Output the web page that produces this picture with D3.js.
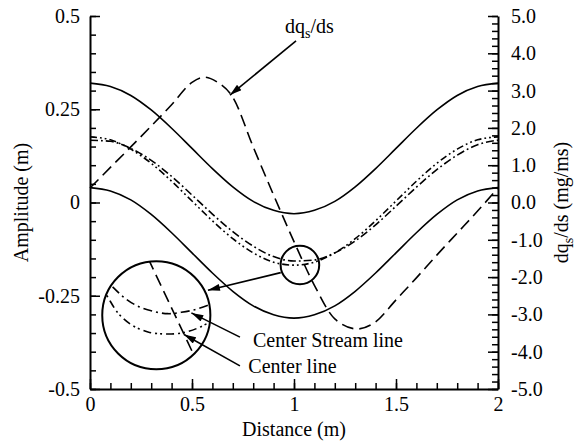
<!DOCTYPE html>
<html>
<head>
<meta charset="utf-8">
<script src="https://cdn.jsdelivr.net/npm/d3@7"></script>
<style>
body { margin: 0; background: #fff; }
</style>
</head>
<body>
<svg id="chart" width="584" height="448"></svg>
<script>
// values, x step 0.1 m
let xs = [0, 0.1, 0.2, 0.3, 0.4, 0.5, 0.6, 0.7, 0.8, 0.9, 1.0, 1.1, 1.2, 1.3, 1.4, 1.5, 1.6, 1.7, 1.8, 1.9, 2.0];
let upperSolid = [0.320, 0.311, 0.287, 0.248, 0.199, 0.145, 0.091, 0.042, 0.003, -0.021, -0.030, -0.021, 0.003, 0.042, 0.091, 0.145, 0.199, 0.248, 0.287, 0.311, 0.320];
let lowerSolid = [0.040, 0.031, 0.007, -0.032, -0.081, -0.135, -0.189, -0.238, -0.277, -0.301, -0.310, -0.301, -0.277, -0.238, -0.189, -0.135, -0.081, -0.032, 0.007, 0.031, 0.040];
let centerLine = [0.176, 0.168, 0.143, 0.105, 0.057, 0.004, -0.049, -0.097, -0.135, -0.160, -0.168, -0.160, -0.135, -0.097, -0.049, 0.004, 0.057, 0.105, 0.143, 0.168, 0.176];
let streamLine = [0.167, 0.164, 0.145, 0.113, 0.070, 0.020, -0.031, -0.078, -0.117, -0.145, -0.157, -0.154, -0.135, -0.103, -0.060, -0.010, 0.041, 0.088, 0.127, 0.155, 0.167];

// dq_s/ds on the right axis (mg/ms)
let dqX = [0, 0.1, 0.2, 0.3, 0.4, 0.5, 0.56, 0.62, 0.7, 0.8, 0.9, 1.0, 1.1, 1.2, 1.31, 1.4, 1.5, 1.6, 1.7, 1.8, 1.9, 2.0];
let dqds = [0.39, 0.94, 1.49, 2.05, 2.62, 3.22, 3.36, 3.24, 2.82, 1.49, 0.20, -1.05, -2.22, -3.12, -3.39, -3.20, -2.61, -2.02, -1.41, -0.82, -0.23, 0.39];

// ticks
let xTicks = [0, 0.5, 1, 1.5, 2];
let xTickLabels = ['0', '0.5', '1', '1.5', '2'];
let yLTicks = [-0.5, -0.25, 0, 0.25, 0.5];
let yLTickLabels = ['-0.5', '-0.25', '0', '0.25', '0.5'];
let yRTicks = [-5, -4, -3, -2, -1, 0, 1, 2, 3, 4, 5];
let yRTickLabels = ['-5.0', '-4.0', '-3.0', '-2.0', '-1.0', '0.0', '1.0', '2.0', '3.0', '4.0', '5.0'];

// zoom circle (data units) and the enlarged inset
let zoomSpot = {x: 1.029, y: -0.1676, r: 0.0946};
let insetSpot = {x: 0.325, y: -0.3024, r: 0.265};

// inset curves, in units of the inset radius
let insetStream = [[-1.05, 0.78], [-0.82, 0.537], [-0.585, 0.32], [-0.339, 0.167], [-0.061, 0.074], [0.217, 0.03], [0.463, 0.056], [0.711, 0.104], [0.957, 0.185], [1.1, 0.24]];
let insetCenter = [[-1.1, 0.62], [-0.926, 0.381], [-0.709, 0.043], [-0.463, -0.174], [-0.154, -0.309], [0.156, -0.346], [0.463, -0.328], [0.772, -0.235], [0.989, -0.124], [1.1, -0.05]];
let insetDq = [[-0.15, 1.05], [0.82, -1.0]];

// arrows [x0, y0, x1, y1] in left-axis data units
let arrows = [
  [1.010, 0.433, 0.686, 0.288],
  [0.935, -0.188, 0.578, -0.235],
  [0.735, -0.361, 0.497, -0.296],
  [0.735, -0.438, 0.461, -0.354]
];

let serif = "'Liberation Serif', 'Times New Roman', Times, 'DejaVu Serif', serif";

let svg = d3.select('#chart')
  .style('font-family', serif);

let x = d3.scaleLinear().domain([0, 2]).range([90, 498]);
let yL = d3.scaleLinear().domain([-0.5, 0.5]).range([389, 16]);
let yR = d3.scaleLinear().domain([-5, 5]).range([389, 16]);

svg.append('defs').append('marker')
  .attr('id', 'head')
  .attr('viewBox', '0 0 12 7')
  .attr('refX', 12)
  .attr('refY', 3.5)
  .attr('markerWidth', 13)
  .attr('markerHeight', 7)
  .attr('markerUnits', 'userSpaceOnUse')
  .attr('orient', 'auto')
  .append('path')
  .attr('d', 'M0,0L12,3.5L0,7z')
  .style('fill', '#000');

function styleAxis(g) {
  g.attr('font-family', serif).attr('font-size', 20);
  g.selectAll('text').style('font-family', serif).style('font-size', '20px').style('fill', '#000');
  g.select('.domain').style('stroke-width', '2px');
  g.selectAll('.tick line').style('stroke-width', '1.5px');
}

// minor ticks first
svg.append('g')
  .attr('transform', 'translate(0,389)')
  .call(d3.axisBottom(x).tickValues(d3.range(0, 2.001, 0.1)).tickSize(-6).tickFormat(''))
  .call(g => g.select('.domain').remove())
  .selectAll('.tick line').style('stroke-width', '1.5px');
svg.append('g')
  .attr('transform', 'translate(90,0)')
  .call(d3.axisLeft(yL).tickValues(d3.range(-0.5, 0.501, 0.05)).tickSize(-6).tickFormat(''))
  .call(g => g.select('.domain').remove())
  .selectAll('.tick line').style('stroke-width', '1.5px');
svg.append('g')
  .attr('transform', 'translate(498,0)')
  .call(d3.axisRight(yR).tickValues(d3.range(-5, 5.001, 0.2)).tickSize(-6).tickFormat(''))
  .call(g => g.select('.domain').remove())
  .selectAll('.tick line').style('stroke-width', '1.5px');

// major ticks + labels
svg.append('g')
  .attr('transform', 'translate(0,389)')
  .call(d3.axisBottom(x).tickValues(xTicks).tickSizeInner(-10).tickSizeOuter(0).tickPadding(8)
    .tickFormat((d, i) => xTickLabels[i]))
  .call(styleAxis);
svg.append('g')
  .attr('transform', 'translate(90,0)')
  .call(d3.axisLeft(yL).tickValues(yLTicks).tickSizeInner(-10).tickSizeOuter(0).tickPadding(10)
    .tickFormat((d, i) => yLTickLabels[i]))
  .call(styleAxis);
svg.append('g')
  .attr('transform', 'translate(498,0)')
  .call(d3.axisRight(yR).tickValues(yRTicks).tickSizeInner(-10).tickSizeOuter(0).tickPadding(13)
    .tickFormat((d, i) => yRTickLabels[i]))
  .call(styleAxis);

function addText(xp, yp, str) {
  return svg.append('text')
    .attr('x', xp).attr('y', yp)
    .style('font-family', serif)
    .style('font-size', '20px')
    .text(str);
}

// axis titles
addText(x(1), 436, 'Distance (m)').attr('text-anchor', 'middle');

addText(0, 0, 'Amplitude (m)')
  .attr('transform', 'translate(28,' + yL(0) + ') rotate(-90)')
  .attr('text-anchor', 'middle');

let rTitle = addText(0, 0, null)
  .attr('transform', 'translate(568,' + yR(0) + ') rotate(-90)')
  .attr('text-anchor', 'middle');
rTitle.append('tspan').text('dq');
rTitle.append('tspan').attr('dy', 5).style('font-size', '14px').text('s');
rTitle.append('tspan').attr('dy', -5).text('/ds (mg/ms)');

// curves
let lineL = d3.line().x(d => x(d[0])).y(d => yL(d[1])).curve(d3.curveMonotoneX);
let lineR = d3.line().x(d => x(d[0])).y(d => yR(d[1])).curve(d3.curveMonotoneX);

let series = [
  {vals: upperSolid, dash: null},
  {vals: lowerSolid, dash: null},
  {vals: centerLine, dash: '7,3,1.8,3,1.8,3'},
  {vals: streamLine, dash: '8,3,1.8,3'}
];

svg.selectAll('path.amp')
  .data(series)
  .enter()
  .append('path')
  .attr('class', 'amp')
  .attr('d', d => lineL(xs.map((v, i) => [v, d.vals[i]])))
  .style('fill', 'none')
  .style('stroke', '#000')
  .style('stroke-width', '1.6px')
  .style('stroke-dasharray', d => d.dash);

svg.append('path')
  .attr('d', lineR(dqX.map((v, i) => [v, dqds[i]])))
  .style('fill', 'none')
  .style('stroke', '#000')
  .style('stroke-width', '1.6px')
  .style('stroke-dasharray', '12,6');

// zoom circle on the curves
let zoomR = x(zoomSpot.r) - x(0);
svg.append('circle')
  .attr('cx', x(zoomSpot.x))
  .attr('cy', yL(zoomSpot.y))
  .attr('r', zoomR)
  .style('fill', 'none')
  .style('stroke', '#000')
  .style('stroke-width', '2px');

// inset
let insetR = x(insetSpot.r) - x(0);
let cx = x(insetSpot.x), cy = yL(insetSpot.y);
let u = d3.scaleLinear().domain([-1, 1]).range([cx - insetR, cx + insetR]);
let v = d3.scaleLinear().domain([-1, 1]).range([cy + insetR, cy - insetR]);
let lineIn = d3.line().x(d => u(d[0])).y(d => v(d[1])).curve(d3.curveCatmullRom);

svg.select('defs').append('clipPath')
  .attr('id', 'insetClip')
  .append('circle')
  .attr('cx', cx).attr('cy', cy).attr('r', insetR);

let inset = svg.append('g').attr('clip-path', 'url(#insetClip)');
let insetSeries = [
  {pts: insetStream, dash: '9,4,2,4'},
  {pts: insetCenter, dash: '8,4,2,3,2,4'},
  {pts: insetDq, dash: '12,6'}
];
inset.selectAll('path')
  .data(insetSeries)
  .enter()
  .append('path')
  .attr('d', d => lineIn(d.pts))
  .style('fill', 'none')
  .style('stroke', '#000')
  .style('stroke-width', '1.6px')
  .style('stroke-dasharray', d => d.dash);

svg.append('circle')
  .attr('cx', cx).attr('cy', cy).attr('r', insetR)
  .style('fill', 'none')
  .style('stroke', '#000')
  .style('stroke-width', '2px');

// arrows
svg.selectAll('line.arrow')
  .data(arrows)
  .enter()
  .append('line')
  .attr('class', 'arrow')
  .attr('x1', d => x(d[0]))
  .attr('y1', d => yL(d[1]))
  .attr('x2', d => x(d[2]))
  .attr('y2', d => yL(d[3]))
  .style('stroke', '#000')
  .style('stroke-width', '1.6px')
  .attr('marker-end', 'url(#head)');

// annotations
let dqLabel = addText(x(0.956), yL(0.454), null);
dqLabel.append('tspan').text('dq');
dqLabel.append('tspan').attr('dy', 5).style('font-size', '14px').text('s');
dqLabel.append('tspan').attr('dy', -5).text('/ds');

addText(x(0.799), yL(-0.387), 'Center Stream line');
addText(x(0.776), yL(-0.457), 'Center line');
</script>
</body>
</html>
